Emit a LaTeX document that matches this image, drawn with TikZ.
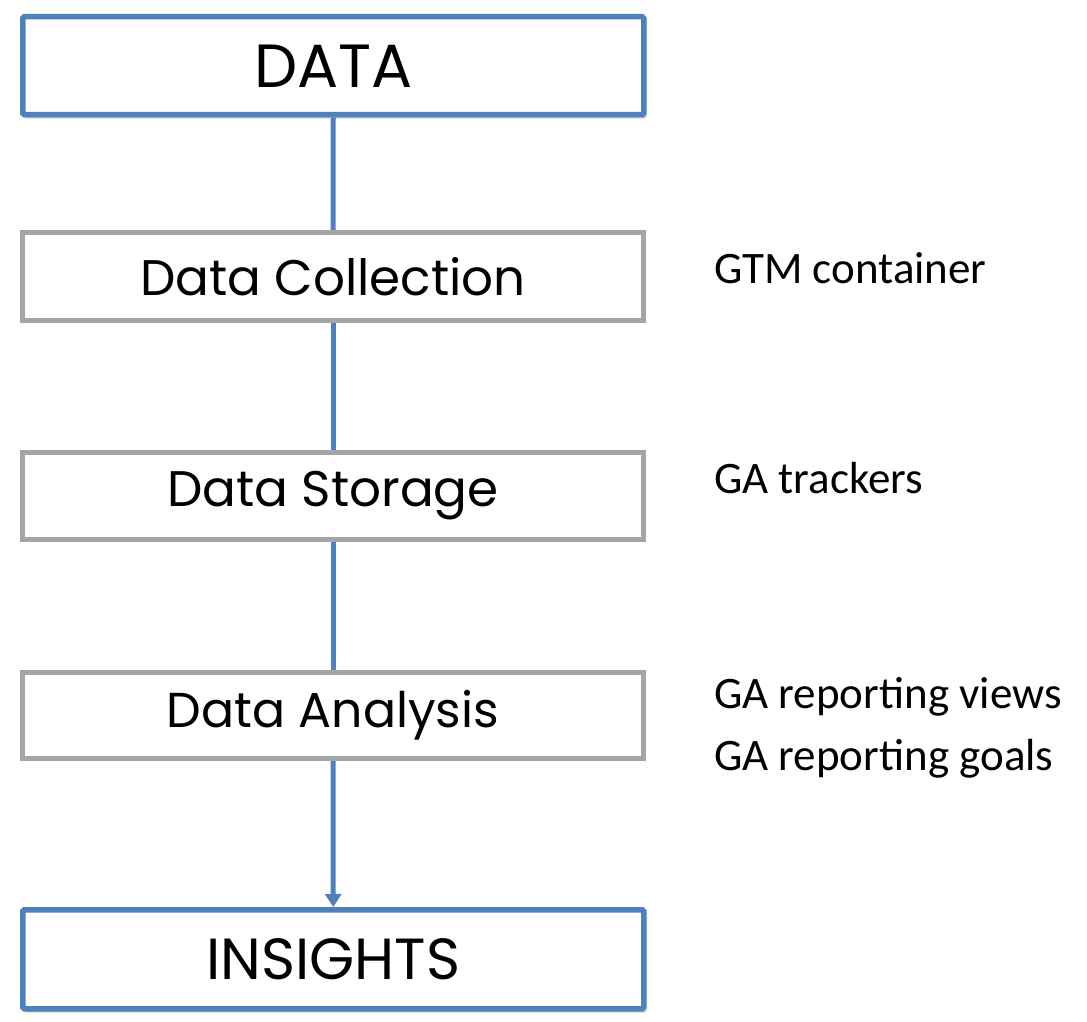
\documentclass[tikz,border=0pt]{standalone}
\usepackage{fontspec}
\setmainfont{Carlito}
\newfontfamily\boxfont{Poppins}
\usetikzlibrary{shadows.blur,arrows.meta}
\definecolor{cblue}{HTML}{4F81BD}
\definecolor{cgray}{HTML}{A5A5A5}
\tikzset{
  bluebox/.style={draw=cblue, line width=5.5pt, fill=white, rounded corners=1.5pt, blur shadow={shadow xshift=2pt, shadow yshift=-3pt, shadow opacity=35, shadow blur steps=6}},
  graybox/.style={draw=cgray, line width=5pt, fill=white},
  conn/.style={draw=cblue, line width=5pt},
  side/.style={anchor=base west, font=\fontsize{45}{50}\selectfont, inner sep=0pt},
}
\begin{document}
\begin{tikzpicture}[x=1pt,y=-1pt]
\useasboundingbox (0,0) rectangle (1087,1022);
\node[bluebox, minimum width=621pt, minimum height=98pt, anchor=north west, font=\boxfont\fontsize{61}{66}\selectfont] (data) at (20,14) {DATA};
\node[graybox, minimum width=621pt, minimum height=88pt, anchor=north west, font=\boxfont\fontsize{50}{56}\selectfont] (coll) at (20,230) {Data Collection};
\node[graybox, minimum width=621pt, minimum height=87pt, anchor=north west, font=\boxfont\fontsize{50}{56}\selectfont] (stor) at (20,450) {Data Storage};
\node[graybox, minimum width=621pt, minimum height=86pt, anchor=north west, font=\boxfont\fontsize{49}{56}\selectfont] (anal) at (20,670) {Data Analysis};
\node[bluebox, minimum width=621pt, minimum height=99pt, anchor=north west, font=\boxfont\fontsize{58}{64}\selectfont] (ins) at (20,907) {INSIGHTS};
\draw[conn] (data.south) -- (coll.north);
\draw[conn] (coll.south) -- (stor.north);
\draw[conn] (stor.south) -- (anal.north);
\draw[conn, -{Triangle[length=13pt,width=16pt]}] (anal.south) -- (ins.north);
\node[side] (l1) at (714,283) {GTM container};
\node[side] (l2) at (714,493) {GA trackers};
\node[side] (l3) at (714,708) {GA reporting views};
\node[side] (l4) at (714,770) {GA reporting goals};
\end{tikzpicture}
\end{document}
